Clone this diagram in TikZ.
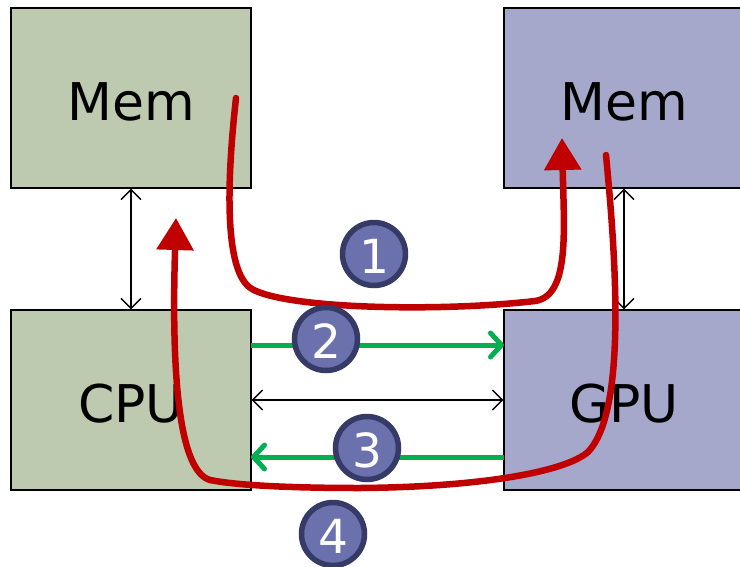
\documentclass[tikz,border=0pt]{standalone}
\usepackage{fontspec}
\setmainfont{DejaVu Sans}
\usetikzlibrary{arrows.meta}
\definecolor{grn}{HTML}{BECAAF}
\definecolor{blu}{HTML}{A5A8CB}
\definecolor{circ}{HTML}{6A71AC}
\definecolor{circb}{HTML}{353A66}
\definecolor{redl}{HTML}{C00000}
\definecolor{grl}{HTML}{00B050}
\tikzset{
 x=1pt,y=-1pt,
 gbox/.style={draw=black,line width=1.3pt,fill=grn,minimum width=240pt,minimum height=180pt,inner sep=0pt,text height=44pt,text depth=0pt,font=\fontsize{52}{58}\selectfont},
 bbox/.style={gbox,fill=blu},
 num/.style={circle,draw=circb,line width=5.5pt,fill=circ,text=white,minimum size=63pt,inner sep=0pt,text height=38pt,text depth=0pt,font=\fontsize{47}{50}\selectfont},
 thin arrow/.style={line width=1.4pt,{Straight Barb[length=10pt,width=20pt]}-{Straight Barb[length=10pt,width=20pt]}},
 green arrow/.style={draw=grl,line width=5pt,-{Straight Barb[length=11pt,width=24pt,round]}},
 red arrow/.style={draw=redl,line width=6.5pt,line cap=round,-{Triangle[length=32pt,width=36pt]}},
}
\begin{document}
\begin{tikzpicture}
\useasboundingbox (0,0) rectangle (740,566);
\node[gbox] (m1) at (131,98) {Mem};
\node[bbox] (m2) at (624,98) {Mem};
\node[gbox] (cpu) at (131,400) {CPU};
\node[bbox] (gpu) at (624,400) {GPU};
\draw[thin arrow] (m1) -- (cpu);
\draw[thin arrow] (m2) -- (gpu);
\draw[thin arrow] (cpu) -- (gpu);
\coordinate (g1s) at (251,345);
\coordinate (g1e) at (504,345);
\coordinate (g2s) at (504,457);
\coordinate (g2e) at (251,457);
\draw[green arrow] (g1s) -- (g1e);
\draw[green arrow] (g2s) -- (g2e);
\coordinate (r1s) at (236,98);
\coordinate (r1e) at (562,138);
\coordinate (r2s) at (606,155);
\coordinate (r2e) at (176,218);
\draw[red arrow] (r1s) .. controls (228,170) and (222,272) .. (252,289)
 .. controls (287,309) and (440,312) .. (535,301)
 .. controls (570,296) and (564,230) .. (r1e);
\draw[red arrow] (r2s) .. controls (615,250) and (628,410) .. (588,452)
 .. controls (565,472) and (480,487) .. (360,488)
 .. controls (300,488) and (240,486) .. (210,480)
 .. controls (175,470) and (172,350) .. (r2e);
\node[num] (n1) at (374,254) {1};
\node[num] (n2) at (326,339) {2};
\node[num] (n3) at (367,448) {3};
\node[num] (n4) at (333,534) {4};
\end{tikzpicture}
\end{document}
